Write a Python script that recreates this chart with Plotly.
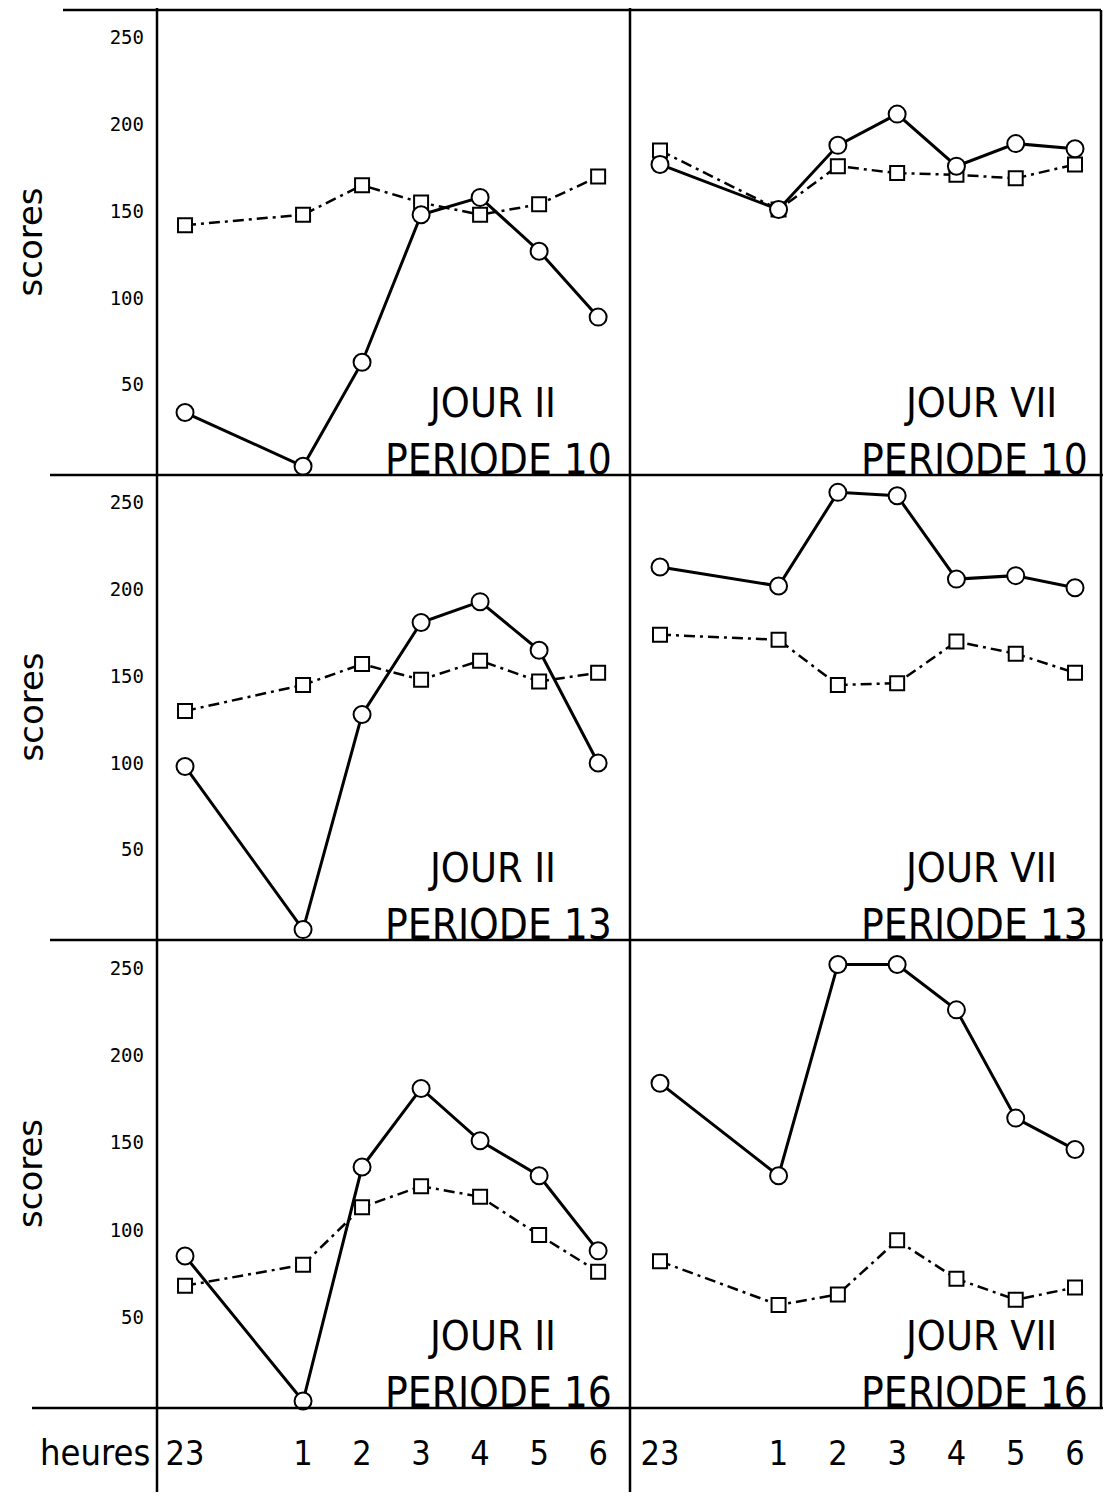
import plotly.graph_objects as go

# ---------------- data ----------------
hours = [23, 1, 2, 3, 4, 5, 6]
hour_labels = ["23", "1", "2", "3", "4", "5", "6"]
y_ticks = [50, 100, 150, 200, 250]
y_tick_labels = ["50", "100", "150", "200", "250"]

jour_ii_p10_circles = [34, 3, 63, 148, 158, 127, 89]
jour_ii_p10_squares = [142, 148, 165, 155, 148, 154, 170]
jour_vii_p10_circles = [177, 151, 188, 206, 176, 189, 186]
jour_vii_p10_squares = [185, 151, 176, 172, 171, 169, 177]

jour_ii_p13_circles = [98, 4, 128, 181, 193, 165, 100]
jour_ii_p13_squares = [130, 145, 157, 148, 159, 147, 152]
jour_vii_p13_circles = [213, 202, 256, 254, 206, 208, 201]
jour_vii_p13_squares = [174, 171, 145, 146, 170, 163, 152]

jour_ii_p16_circles = [85, 2, 136, 181, 151, 131, 88]
jour_ii_p16_squares = [68, 80, 113, 125, 119, 97, 76]
jour_vii_p16_circles = [184, 131, 252, 252, 226, 164, 146]
jour_vii_p16_squares = [82, 57, 63, 94, 72, 60, 67]

panel_jours = ["JOUR II", "JOUR VII", "JOUR II", "JOUR VII", "JOUR II", "JOUR VII"]
panel_periodes = ["PERIODE 10", "PERIODE 10", "PERIODE 13", "PERIODE 13", "PERIODE 16", "PERIODE 16"]
panels = [
    (jour_ii_p10_circles, jour_ii_p10_squares),
    (jour_vii_p10_circles, jour_vii_p10_squares),
    (jour_ii_p13_circles, jour_ii_p13_squares),
    (jour_vii_p13_circles, jour_vii_p13_squares),
    (jour_ii_p16_circles, jour_ii_p16_squares),
    (jour_vii_p16_circles, jour_vii_p16_squares),
]

# -------------- layout geometry --------------
# the page body has an 8px margin, so the figure is drawn 8px in from the corner
OFF = 8
W, H = 1111 - 2 * OFF, 1501 - 2 * OFF
RIGHT = OFF + W - 2  # right frame line, kept inside the visible page
def px_x(x): return (x - OFF) / W
def px_y(y): return 1 - (y - OFF) / H

xpos = [h - 24 if h > 12 else h for h in hours]

col_px = [(157, 630), (630, RIGHT)]
col_range = [[-1.475, 6.54], [-1.506, 6.0 + (RIGHT - 1075) / 59.3]]
row_px = [(10, 475), (475, 940), (940, 1408)]

NARROW = "Liberation Sans Narrow, DejaVu Sans Condensed, Liberation Sans, sans-serif"

fig = go.Figure()
layout = dict(
    width=W, height=H,
    margin=dict(l=0, r=0, t=0, b=0),
    paper_bgcolor="white", plot_bgcolor="white",
    showlegend=False,
)

annotations = []
for i, (circ, sq) in enumerate(panels):
    r, c = divmod(i, 2)
    n = i + 1
    xa = "x" if n == 1 else f"x{n}"
    ya = "y" if n == 1 else f"y{n}"
    xkey = "xaxis" if n == 1 else f"xaxis{n}"
    ykey = "yaxis" if n == 1 else f"yaxis{n}"
    x0, x1 = col_px[c]
    y0, y1 = row_px[r]
    layout[xkey] = dict(
        domain=[px_x(x0), px_x(x1)], range=col_range[c], anchor=ya,
        showgrid=False, zeroline=False, showline=False, ticks="",
        tickvals=xpos, ticktext=hour_labels,
        showticklabels=(r == 2),
        tickfont=dict(family=NARROW, size=34, color="black"),
        ticklabelstandoff=22,
    )
    layout[ykey] = dict(
        domain=[px_y(y1), px_y(y0)], range=[-2, 266], anchor=xa,
        showgrid=False, zeroline=False, showline=False, ticks="",
        tickvals=y_ticks, ticktext=y_tick_labels,
        showticklabels=(c == 0),
        tickfont=dict(family="DejaVu Sans Mono, monospace", size=19, color="black"),
        ticklabelstandoff=12,
    )
    fig.add_trace(go.Scatter(
        x=xpos, y=sq, xaxis=xa, yaxis=ya, mode="lines+markers",
        line=dict(color="black", width=2.5, dash="11px,5px,3px,5px"),
        marker=dict(symbol="square", size=14, color="white",
                    line=dict(color="black", width=2)),
        cliponaxis=False,
    ))
    fig.add_trace(go.Scatter(
        x=xpos, y=circ, xaxis=xa, yaxis=ya, mode="lines+markers",
        line=dict(color="black", width=3),
        marker=dict(symbol="circle", size=17, color="white",
                    line=dict(color="black", width=2)),
        cliponaxis=False,
    ))
    cx = 492 if c == 0 else 976
    annotations.append(dict(
        text=panel_jours[i], xref="paper", yref="paper",
        x=px_x(cx + (0 if c == 0 else 4)), y=px_y(y1 - 72), xanchor="center", yanchor="middle",
        showarrow=False, font=dict(family=NARROW, size=41, color="black"),
    ))
    annotations.append(dict(
        text=panel_periodes[i], xref="paper", yref="paper",
        x=px_x(cx + (6 if c == 0 else -2)), y=px_y(y1 - 16), xanchor="center", yanchor="middle",
        showarrow=False, font=dict(family=NARROW, size=42, color="black"),
    ))
    if c == 0:
        annotations.append(dict(
            text="scores", xref="paper", yref="paper", textangle=-90,
            x=px_x(30), y=px_y((y0 + y1) / 2), xanchor="center", yanchor="middle",
            showarrow=False, font=dict(family="DejaVu Sans, sans-serif", size=34, color="black"),
        ))

annotations.append(dict(
    text="heures", xref="paper", yref="paper",
    x=px_x(152), y=px_y(1452), xanchor="right", yanchor="middle",
    showarrow=False, font=dict(family=NARROW, size=36, color="black"),
))

# frame lines
lw = 2.5
shapes = []
def hline(y, xa, xb):
    shapes.append(dict(type="line", xref="paper", yref="paper",
                       x0=px_x(xa), x1=px_x(xb), y0=px_y(y), y1=px_y(y),
                       line=dict(color="black", width=lw)))
def vline(x, ya, yb):
    shapes.append(dict(type="line", xref="paper", yref="paper",
                       x0=px_x(x), x1=px_x(x), y0=px_y(ya), y1=px_y(yb),
                       line=dict(color="black", width=lw)))
hline(10, 63, RIGHT)
hline(475, 50, OFF + W)
hline(940, 50, OFF + W)
hline(1408, 32, OFF + W)
vline(157, 8, 1492)
vline(630, 8, 1492)
vline(RIGHT, 10, 1408)

layout["annotations"] = annotations
layout["shapes"] = shapes
fig.update_layout(**layout)
fig.write_html("out.html")
